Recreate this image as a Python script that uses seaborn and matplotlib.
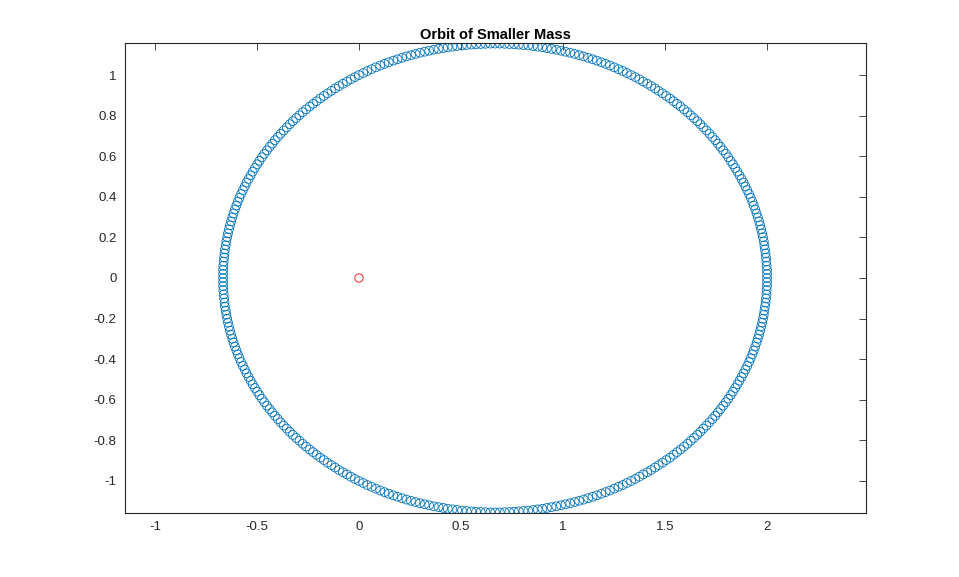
"""
Orbit of the smaller mass around the larger one (MATLAB-style look).
Run with: python plot.py
"""

import matplotlib
matplotlib.use("Agg")
import matplotlib.pyplot as plt
import seaborn as sns


# --- First revolution, upper half (right -> left) ---
REV1_UPPER_X = [
    2.000, 2.000, 1.997, 1.993, 1.987, 1.980, 1.971, 1.961, 1.949, 1.935,
    1.920, 1.903, 1.885, 1.865, 1.844, 1.822, 1.798, 1.772, 1.746, 1.718,
    1.688, 1.658, 1.626, 1.593, 1.559, 1.524, 1.488, 1.451, 1.413, 1.374,
    1.334, 1.293, 1.251, 1.209, 1.166, 1.123, 1.079, 1.035, 0.990, 0.944,
    0.899, 0.853, 0.806, 0.760, 0.714, 0.667, 0.620, 0.574, 0.528, 0.481,
    0.435, 0.390, 0.344, 0.299, 0.255, 0.211, 0.168, 0.125, 0.083, 0.041,
    0.000, -0.040, -0.079, -0.117, -0.154, -0.190, -0.225, -0.259, -0.292, -0.324,
    -0.354, -0.384, -0.412, -0.438, -0.464, -0.488, -0.510, -0.531, -0.551, -0.569,
    -0.586, -0.601, -0.615, -0.627, -0.637, -0.646, -0.653, -0.659, -0.663, -0.666,
    -0.666,
]
REV1_UPPER_Y = [
    0.000, 0.040, 0.081, 0.121, 0.161, 0.201, 0.240, 0.279, 0.318, 0.357,
    0.395, 0.433, 0.470, 0.506, 0.542, 0.577, 0.612, 0.646, 0.679, 0.711,
    0.742, 0.773, 0.802, 0.831, 0.858, 0.885, 0.910, 0.934, 0.957, 0.979,
    1.000, 1.020, 1.038, 1.055, 1.071, 1.085, 1.098, 1.110, 1.120, 1.129,
    1.137, 1.143, 1.148, 1.152, 1.154, 1.155, 1.154, 1.152, 1.148, 1.143,
    1.137, 1.129, 1.120, 1.110, 1.098, 1.085, 1.071, 1.055, 1.038, 1.020,
    1.000, 0.979, 0.957, 0.934, 0.910, 0.885, 0.858, 0.831, 0.802, 0.773,
    0.742, 0.711, 0.679, 0.646, 0.612, 0.577, 0.542, 0.506, 0.470, 0.433,
    0.395, 0.357, 0.318, 0.279, 0.240, 0.201, 0.161, 0.121, 0.081, 0.040,
    0.000,
]

# --- First revolution, lower half (left -> right) ---
REV1_LOWER_X = [
    -0.666, -0.663, -0.659, -0.653, -0.646, -0.637, -0.627, -0.615, -0.601, -0.586,
    -0.569, -0.551, -0.531, -0.510, -0.488, -0.464, -0.438, -0.412, -0.384, -0.354,
    -0.324, -0.292, -0.259, -0.225, -0.190, -0.154, -0.117, -0.079, -0.040, 0.000,
    0.041, 0.083, 0.125, 0.168, 0.211, 0.255, 0.299, 0.344, 0.390, 0.435,
    0.481, 0.528, 0.574, 0.620, 0.667, 0.714, 0.760, 0.806, 0.853, 0.899,
    0.944, 0.990, 1.035, 1.079, 1.123, 1.166, 1.209, 1.251, 1.293, 1.334,
    1.374, 1.413, 1.451, 1.488, 1.524, 1.559, 1.593, 1.626, 1.658, 1.688,
    1.718, 1.746, 1.772, 1.798, 1.822, 1.844, 1.865, 1.885, 1.903, 1.920,
    1.935, 1.949, 1.961, 1.971, 1.980, 1.987, 1.993, 1.997, 2.000,
]
REV1_LOWER_Y = [
    -0.040, -0.081, -0.121, -0.161, -0.201, -0.240, -0.279, -0.318, -0.357, -0.395,
    -0.433, -0.470, -0.506, -0.542, -0.577, -0.612, -0.646, -0.679, -0.711, -0.742,
    -0.773, -0.802, -0.831, -0.858, -0.885, -0.910, -0.934, -0.957, -0.979, -1.000,
    -1.020, -1.038, -1.055, -1.071, -1.085, -1.098, -1.110, -1.120, -1.129, -1.137,
    -1.143, -1.148, -1.152, -1.154, -1.155, -1.154, -1.152, -1.148, -1.143, -1.137,
    -1.129, -1.120, -1.110, -1.098, -1.085, -1.071, -1.055, -1.038, -1.020, -1.000,
    -0.979, -0.957, -0.934, -0.910, -0.885, -0.858, -0.831, -0.802, -0.773, -0.742,
    -0.711, -0.679, -0.646, -0.612, -0.577, -0.542, -0.506, -0.470, -0.433, -0.395,
    -0.357, -0.318, -0.279, -0.240, -0.201, -0.161, -0.121, -0.081, -0.040,
]

# --- Second revolution, upper half (samples fall between the first ones) ---
REV2_UPPER_X = [
    2.000, 1.998, 1.995, 1.990, 1.984, 1.976, 1.966, 1.955, 1.942, 1.928,
    1.912, 1.894, 1.875, 1.855, 1.833, 1.810, 1.785, 1.759, 1.732, 1.703,
    1.673, 1.642, 1.610, 1.576, 1.542, 1.506, 1.469, 1.432, 1.393, 1.354,
    1.313, 1.272, 1.230, 1.188, 1.145, 1.101, 1.057, 1.012, 0.967, 0.921,
    0.876, 0.830, 0.783, 0.737, 0.690, 0.644, 0.597, 0.551, 0.505, 0.458,
    0.413, 0.367, 0.322, 0.277, 0.233, 0.189, 0.146, 0.104, 0.062, 0.021,
    -0.020, -0.059, -0.098, -0.135, -0.172, -0.208, -0.242, -0.276, -0.308, -0.339,
    -0.369, -0.398, -0.425, -0.451, -0.476, -0.499, -0.521, -0.541, -0.560, -0.578,
    -0.594, -0.608, -0.621, -0.632, -0.642, -0.650, -0.657, -0.661, -0.665, -0.666,
]
REV2_UPPER_Y = [
    0.020, 0.060, 0.101, 0.141, 0.181, 0.220, 0.260, 0.299, 0.338, 0.376,
    0.414, 0.451, 0.488, 0.524, 0.560, 0.595, 0.629, 0.662, 0.695, 0.727,
    0.758, 0.788, 0.817, 0.845, 0.871, 0.897, 0.922, 0.946, 0.968, 0.990,
    1.010, 1.029, 1.047, 1.063, 1.078, 1.092, 1.104, 1.115, 1.125, 1.133,
    1.140, 1.146, 1.150, 1.153, 1.155, 1.155, 1.153, 1.150, 1.146, 1.140,
    1.133, 1.125, 1.115, 1.104, 1.092, 1.078, 1.063, 1.047, 1.029, 1.010,
    0.990, 0.968, 0.946, 0.922, 0.897, 0.871, 0.845, 0.817, 0.788, 0.758,
    0.727, 0.695, 0.662, 0.629, 0.595, 0.560, 0.524, 0.488, 0.451, 0.414,
    0.376, 0.338, 0.299, 0.260, 0.220, 0.181, 0.141, 0.101, 0.060, 0.020,
]

# --- Second revolution, lower half ---
REV2_LOWER_X = [
    -0.666, -0.665, -0.661, -0.657, -0.650, -0.642, -0.632, -0.621, -0.608, -0.594,
    -0.578, -0.560, -0.541, -0.521, -0.499, -0.476, -0.451, -0.425, -0.398, -0.369,
    -0.339, -0.308, -0.276, -0.242, -0.208, -0.172, -0.135, -0.098, -0.059, -0.020,
    0.021, 0.062, 0.104, 0.146, 0.189, 0.233, 0.277, 0.322, 0.367, 0.413,
    0.458, 0.505, 0.551, 0.597, 0.644, 0.690, 0.737, 0.783, 0.830, 0.876,
    0.921, 0.967, 1.012, 1.057, 1.101, 1.145, 1.188, 1.230, 1.272, 1.313,
    1.354, 1.393, 1.432, 1.469, 1.506, 1.542, 1.576, 1.610, 1.642, 1.673,
    1.703, 1.732, 1.759, 1.785, 1.810, 1.833, 1.855, 1.875, 1.894, 1.912,
    1.928, 1.942, 1.955, 1.966, 1.976, 1.984, 1.990, 1.995, 1.998, 2.000,
]
REV2_LOWER_Y = [
    -0.020, -0.060, -0.101, -0.141, -0.181, -0.220, -0.260, -0.299, -0.338, -0.376,
    -0.414, -0.451, -0.488, -0.524, -0.560, -0.595, -0.629, -0.662, -0.695, -0.727,
    -0.758, -0.788, -0.817, -0.845, -0.871, -0.897, -0.922, -0.946, -0.968, -0.990,
    -1.010, -1.029, -1.047, -1.063, -1.078, -1.092, -1.104, -1.115, -1.125, -1.133,
    -1.140, -1.146, -1.150, -1.153, -1.155, -1.155, -1.153, -1.150, -1.146, -1.140,
    -1.133, -1.125, -1.115, -1.104, -1.092, -1.078, -1.063, -1.047, -1.029, -1.010,
    -0.990, -0.968, -0.946, -0.922, -0.897, -0.871, -0.845, -0.817, -0.788, -0.758,
    -0.727, -0.695, -0.662, -0.629, -0.595, -0.560, -0.524, -0.488, -0.451, -0.414,
    -0.376, -0.338, -0.299, -0.260, -0.220, -0.181, -0.141, -0.101, -0.060, -0.020,
]

# --- Larger mass sits at the origin ---
CENTER_X = [0.0]
CENTER_Y = [0.0]

X_TICKS = [-1, -0.5, 0, 0.5, 1, 1.5, 2]
Y_TICKS = [-1, -0.8, -0.6, -0.4, -0.2, 0, 0.2, 0.4, 0.6, 0.8, 1]

ORBIT_COLOR = "#0072BD"
CENTER_COLOR = "#FF0000"
AXIS_COLOR = "#262626"


def tick_label(v):
    return f"{v:g}"


def main():
    sns.set_style("white")
    plt.rcParams["font.family"] = ["Liberation Sans", "DejaVu Sans"]
    plt.rcParams["axes.unicode_minus"] = False

    fig = plt.figure(figsize=(9.59, 5.77), dpi=100)
    ax = fig.add_axes([0.1303, 0.1109, 0.7727, 0.8146])

    orbit_x = REV1_UPPER_X + REV1_LOWER_X + REV2_UPPER_X + REV2_LOWER_X
    orbit_y = REV1_UPPER_Y + REV1_LOWER_Y + REV2_UPPER_Y + REV2_LOWER_Y
    sns.scatterplot(x=orbit_x, y=orbit_y, ax=ax, marker="o", s=40,
                    facecolors="none", edgecolor=ORBIT_COLOR, linewidth=0.6)
    sns.scatterplot(x=CENTER_X, y=CENTER_Y, ax=ax, marker="o", s=36,
                    facecolors="none", edgecolor=CENTER_COLOR, linewidth=0.6)

    ax.set_xlim(-1.147, 2.485)
    ax.set_ylim(-1.158, 1.158)

    ax.set_xticks(X_TICKS)
    ax.set_xticklabels([tick_label(v) for v in X_TICKS])
    ax.set_yticks(Y_TICKS)
    ax.set_yticklabels([tick_label(v) for v in Y_TICKS])
    ax.tick_params(direction="in", length=5, width=0.6, colors=AXIS_COLOR,
                   labelsize=9.5, top=True, right=True, pad=6)
    for spine in ax.spines.values():
        spine.set_visible(True)
        spine.set_color(AXIS_COLOR)
        spine.set_linewidth(0.8)

    ax.set_xlabel("")
    ax.set_ylabel("")
    ax.set_title("Orbit of Smaller Mass", fontsize=10.5, fontweight="bold",
                 color="#000000", pad=3)

    fig.savefig("out.png", dpi=100, facecolor="white")
    plt.close(fig)


if __name__ == "__main__":
    main()
